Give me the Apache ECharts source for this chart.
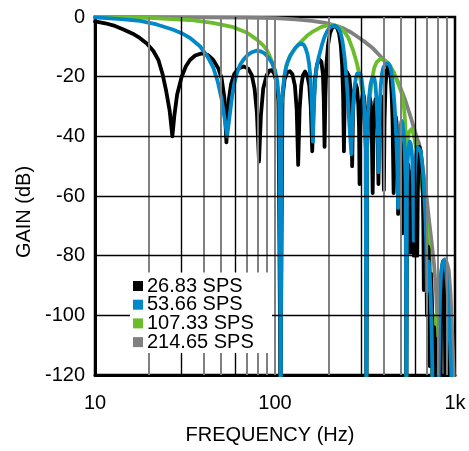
<!DOCTYPE html>
<html lang="en">
<head>
<meta charset="UTF-8">
<title>Gain vs Frequency</title>
<script src="https://cdn.jsdelivr.net/npm/echarts@6/dist/echarts.min.js"></script>
<style>
    *{margin:0;padding:0;}
    html,body{width:100%;height:100%;overflow:hidden;background:#fff;}
    .container{width:469px;height:451px;}
</style>
</head>
<body>
<div class="container"></div>
<script>
    // legend names, in the order shown
    let names=['26.83 SPS','53.66 SPS','107.33 SPS','214.65 SPS'];
    let xLabels={10:'10',100:'100',1000:'1k'};
    let yTicks=[0,-20,-40,-60,-80,-100,-120];
    let hLines=[-20,-40,-60,-80,-100];
    let minorGray=[20,40,50,70,80,90,100,200,400,500,700,800,900];
    let minorBlack=[30,60,300,600];
    // area kept clear for the legend, in axis units
    let legendBox={f0:15.65,f1:96.2,db0:-85.65,db1:-112.6};

    // [frequency Hz, gain dB]
    let gray214=[[10,0],[40,-0.1],[70,-0.2],[100,-0.4],[130,-0.8],[160,-1.3],[190,-2],[215,-2.8],[240,-3.8],
        [265,-5.2],[290,-6.8],[320,-8.6],[350,-10.5],[383,-13],[410,-15],[430,-16.3],[452,-18.5],[476,-21],[500,-24],
        [530,-28],[560,-32.5],[580,-35.5],[600,-38.5],[615,-40.5],[632,-42.5],[645,-45.5],[660,-50],[681,-56],
        [700,-62],[714,-67],[740,-75],[765,-83],[785,-92],[798,-102],[806,-112],[812,-106],[825,-93],[840,-86],
        [860,-82],[880,-81.2],[902,-82.5],[924,-85],[945,-93],[962,-104],[975,-113],[985,-122],[992,-130]];

    let green107=[[10,0],[20,-0.3],[33.7,-1],[45,-2],[58.7,-3.4],[70,-5.3],[79,-7.5],[86,-9.5],[90,-11],[93,-12.8],
        [96,-14.8],[99,-17.5],[102,-21.5],[104.5,-27],[106.3,-38],[107.3,-130],[108.5,-36],[110.5,-25],[113,-19.5],
        [116,-16],[121,-13],[130,-10.3],[138,-8.6],[150,-6.4],[163,-4.8],[180,-3.4],[195,-2.8],[210,-2.7],[225,-3.3],
        [240,-4.6],[255,-6.8],[271,-11],[285,-15.5],[296,-20],[307,-25.5],[316,-33],[320,-45],[322,-130],[324,-45],
        [330,-32],[344,-21.7],[356,-17],[367,-15.2],[380,-14.3],[391,-14.1],[410,-14.6],[435,-16.2],[460,-18.8],
        [482,-22.2],[505,-25.5],[520,-30],[530,-36],[536.6,-130],[543,-42],[555,-38.5],[576,-37.5],[590,-39.5],
        [605,-43],[630,-50],[660,-58],[690,-67],[720,-78],[740,-92],[751,-130],[765,-100],[790,-112],[810,-98],
        [835,-86],[857,-82],[880,-85],[905,-95],[930,-110],[950,-125]];

    let black26=[[10,-1.5],[11.4,-2.1],[12.9,-3],[14.4,-4.2],[16.2,-5.6],[17.8,-7.1],[19.4,-8.9],[21.1,-11.4],
        [22.5,-14.4],[23.7,-19],[24.8,-24.5],[26,-31.5],[26.9,-40],[27.6,-33],[28.6,-26],[30.3,-20],[32,-16.5],
        [33.7,-14.4],[36,-12.9],[39.2,-12.2],[42.5,-12.8],[45.4,-14.4],[48.5,-17.3],[50.5,-20.5],[52.3,-27],
        [53.7,-42],[55.3,-28],[57,-22.5],[59.5,-19],[63,-17.2],[67,-16.6],[71,-17.3],[74.3,-19.5],[77,-24],[79.3,-32],
        [81.5,-48.5],[83.5,-33],[86,-24],[89.9,-19.5],[93,-18],[96,-17.8],[99,-19],[102,-22],[104.5,-28],[107.3,-130],
        [110,-27],[113,-21],[117,-18.5],[121,-18.2],[125,-19.2],[129,-23],[132,-31],[134.5,-49.6],[137,-31],[140,-23],
        [143,-19.5],[147,-18.3],[151,-19.5],[155,-23],[158,-30],[161,-45],[164,-29],[167,-20.5],[171,-16],[176,-14.2],
        [181,-15],[184.5,-19],[186.5,-27],[188.5,-43.5],[190.5,-27],[193,-16],[197,-9.5],[202,-5.5],[208,-3.6],
        [214.6,-3],[221,-3.6],[227,-5.5],[232,-9.5],[236,-16],[239,-26],[241.5,-45],[244,-27],[247,-21],[251,-18.5],
        [255,-18.3],[259,-20],[263,-25],[266,-33],[268.3,-50],[271,-33],[275,-25],[281,-22.5],[286,-24],[290,-29],
        [293,-37],[295,-56],[298,-37],[302,-29],[308,-25.5],[313,-27],[317,-33],[320,-45],[322,-130],[325,-44],
        [329,-32],[335,-27],[340,-28.5],[344,-34],[348.8,-59],[353,-38],[358,-30],[362,-27.5],[367,-29],[371,-34],
        [375.6,-56],[379,-37],[384,-29],[389,-26.5],[394,-28],[398,-34],[402.5,-58],[406,-35],[411,-23],[418,-18],
        [425,-16.3],[432,-17],[439,-20],[445,-26],[450,-35],[456,-59],[461,-42],[465,-36],[469,-33.5],[473,-35],
        [478,-42],[483,-66],[488,-47],[492,-41],[497,-40],[502,-43],[506,-50],[510,-72.5],[514,-55],[519,-47],
        [524,-45.5],[529,-49],[533,-57],[536.6,-130],[540,-60],[545,-51],[550,-49.5],[555,-52],[559,-60],[563,-79],
        [567,-62],[572,-54],[577,-52],[582,-55],[586,-62],[590,-80],[595,-62],[600,-54],[605,-52],[610,-55],[614,-63],
        [617,-80],[621,-60],[627,-48],[635,-43.5],[645,-45],[655,-50],[663,-60],[667,-70],[671,-91.5],[675,-75],
        [680,-68],[685,-68],[690,-72],[694,-80],[698,-100],[703,-82],[709,-77],[714,-78],[719,-86],[724,-117],
        [729,-93],[735,-86],[740,-86],[746,-97],[751,-130],[760,-108],[766,-104],[773,-112],[778,-125],[785,-112],
        [792,-108],[799,-116],[805,-130],[812,-108],[820,-102],[827,-110],[832,-130],[837,-98],[845,-86],[857,-82],
        [867,-84],[876,-92],[885,-130],[891,-104],[898,-98],[905,-103],[912,-125],[918,-110],[925,-106],[932,-114],
        [939,-130]];

    let blue53=[[10,-0.1],[14,-0.7],[17.8,-1.3],[22,-2.5],[27,-4.2],[30.5,-5.5],[34,-7.2],[38.3,-9.8],[42,-13],
        [45.4,-17],[48,-21.5],[50.5,-27.5],[52.5,-34],[54.2,-40],[56,-33],[57.8,-26.5],[59.5,-22],[61.5,-18.8],
        [64,-16],[67,-14.2],[70.5,-12.7],[74.5,-11.8],[78.5,-11.3],[83,-11.5],[87.5,-12.2],[92,-13.6],[96,-15.3],
        [100,-17.8],[103,-21.5],[105.5,-28.5],[107.5,-130],[109,-30],[110.5,-25],[112.5,-20.5],[115,-17],[118,-14.8],
        [121,-13.3],[125,-11.8],[130,-10.3],[135,-9.3],[140,-8.9],[144,-9.2],[148,-10.5],[151.5,-12.5],[154.5,-15.5],
        [157,-19.5],[159,-25],[160.8,-32],[162.5,-41.8],[164,-33],[165.5,-26.5],[167.5,-21],[170,-17.2],[174,-14],
        [178,-11.7],[183,-9],[188,-6.8],[194,-5],[200,-3.8],[207,-3.1],[214,-3],[220,-3.3],[226,-4],[231,-5.2],
        [236,-7.5],[240,-10.5],[244,-14],[249,-20],[253,-26],[257,-33],[261,-39],[265.5,-46],[269,-36],[272,-29],
        [276,-24],[281,-20.5],[286,-19],[292,-18.4],[298,-19],[303,-21],[308,-24.5],[312,-29],[315.5,-35],[318.5,-43],
        [322,-130],[325,-42],[328,-34],[333,-27],[339,-22.8],[345,-20.8],[351,-20.2],[356,-20.5],[361,-22.5],[366,-27],
        [370,-33],[373,-40],[376,-52],[379,-38],[382,-30],[387,-23],[393,-19],[400,-17],[410,-15.8],[418,-15.4],
        [426,-15.5],[434,-16.3],[442,-18],[449,-21],[456,-25.5],[462,-30],[468,-36],[473,-42],[478,-50],[483,-64],
        [488,-48],[493,-41],[499,-36.5],[505,-34.8],[511,-35.5],[517,-38],[523,-42],[528,-48],[532,-56],[536.6,-130],
        [541,-56],[546,-48],[552,-44],[560,-41.8],[568,-42.5],[575,-45],[580,-49],[585,-56],[590,-75],[595,-57],
        [601,-50],[608,-46],[618,-43.5],[632,-43],[645,-45],[660,-50],[672,-57],[684,-66],[692,-75],[698,-92],
        [704,-84],[714,-82],[724,-86],[734,-95],[742,-106],[748,-118],[751,-130],[805,-130],[812,-120],[818,-105],
        [826,-93],[836,-86.5],[848,-83],[865,-81.5],[880,-82.5],[895,-86],[910,-92],[925,-101],[940,-110],[952,-118],
        [958,-125],[962,-130]];

    let colors={black:'#000000',blue:'#0088c8',green:'#6bbd2b',gray:'#808080'};
    let font='"Liberation Sans", Arial, sans-serif';

    let container=document.querySelector('.container');
    let mycharts=echarts.init(container,null,{renderer:'canvas'});

    // grid lines, broken where the legend sits
    let gridLines=[];
    function vLine(v,style){
        if(v>legendBox.f0&&v<legendBox.f1){
            gridLines.push([{coord:[v,0],lineStyle:style},{coord:[v,legendBox.db0]}]);
            gridLines.push([{coord:[v,legendBox.db1],lineStyle:style},{coord:[v,-120]}]);
        }else{
            gridLines.push({xAxis:v,lineStyle:style});
        }
    }
    minorGray.forEach(v=>vLine(v,{color:'#808080',width:2,type:'solid'}));
    minorBlack.forEach(v=>vLine(v,{color:'#000',width:1.4,type:'solid'}));
    hLines.forEach(v=>{
        let style={color:'#000',width:1.4,type:'solid'};
        if(v<legendBox.db0&&v>legendBox.db1){
            gridLines.push([{coord:[10,v],lineStyle:style},{coord:[legendBox.f0,v]}]);
            gridLines.push([{coord:[legendBox.f1,v],lineStyle:style},{coord:[1000,v]}]);
        }else{
            gridLines.push({yAxis:v,lineStyle:style});
        }
    });

    function curve(name,data,color){
        return {
            name:name,
            type:'line',
            data:data,
            showSymbol:false,
            symbol:'none',
            color:color,
            lineStyle:{color:color,width:3.8,join:'round',cap:'round'},
            z:3
        };
    }

    let options={
        animation:false,
        backgroundColor:'#fff',
        textStyle:{fontFamily:font},
        grid:{left:95,right:14,top:17,bottom:76,show:true,borderColor:'#000',borderWidth:2.5,backgroundColor:'transparent'},
        legend:{
            data:names,
            orient:'vertical',
            left:130,
            top:273,
            icon:'rect',
            itemWidth:10,
            itemHeight:10,
            itemGap:-1.3,
            padding:[3,16,3,3],
            backgroundColor:'#fff',
            selectedMode:false,
            textStyle:{fontSize:20,color:'#000',fontFamily:font,lineHeight:18.5,padding:[0,0,0,-1]}
        },
        xAxis:{
            type:'log',
            logBase:10,
            min:10,
            max:1000,
            name:'FREQUENCY (Hz)',
            nameLocation:'middle',
            nameGap:50,
            nameTextStyle:{fontSize:20,color:'#000',fontFamily:font,padding:[0,10,0,0]},
            axisLine:{show:true,onZero:false,lineStyle:{color:'#000',width:3}},
            axisTick:{show:false},
            splitLine:{show:false},
            axisLabel:{fontSize:20,color:'#000',fontFamily:font,margin:18,
                formatter:v=>xLabels[Math.round(v)]||''}
        },
        yAxis:{
            type:'value',
            min:-120,
            max:0,
            interval:20,
            axisLine:{show:true,lineStyle:{color:'#000',width:3}},
            axisTick:{show:false},
            splitLine:{show:false},
            axisLabel:{fontSize:20,color:'#000',fontFamily:font,margin:10,
                formatter:v=>yTicks.includes(v)?String(v):''}
        },
        graphic:[{
            type:'text',
            x:24,
            y:212,
            rotation:Math.PI/2,
            style:{text:'GAIN (dB)',fontSize:20,fill:'#000',font:'20px '+font,align:'center',verticalAlign:'middle'}
        }],
        series:[
            {
                type:'line',
                data:[],
                z:1,
                silent:true,
                markLine:{silent:true,symbol:['none','none'],label:{show:false},animation:false,data:gridLines}
            },
            curve(names[3],gray214,colors.gray),
            curve(names[2],green107,colors.green),
            curve(names[0],black26,colors.black),
            curve(names[1],blue53,colors.blue)
        ]
    };

    mycharts.setOption(options);
</script>
</body>
</html>
